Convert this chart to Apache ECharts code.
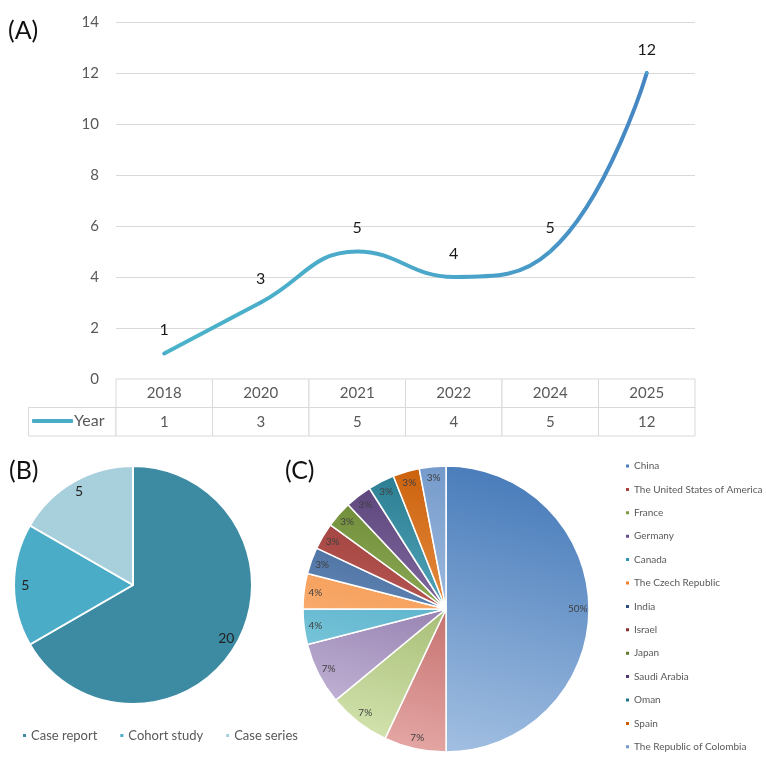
<!DOCTYPE html>
<html>
<head>
<meta charset="utf-8">
<script src="https://cdn.jsdelivr.net/npm/echarts@6/dist/echarts.min.js"></script>
<style>
  html, body { margin: 0; padding: 0; background: #fff; }
  #main { width: 766px; height: 760px; }
</style>
</head>
<body>
<div id="main"></div>
<script>
// (A) publications per year
const years = ['2018', '2020', '2021', '2022', '2024', '2025'];
const yearCounts = [1, 3, 5, 4, 5, 12];
const yMin = 0, yMax = 14, yStep = 2;

// (B) study design
const designNames = ['Case report', 'Cohort study', 'Case series'];
const designValues = [20, 5, 5];
const designColors = ['#3c8ba3', '#4aacc6', '#a8cfdc'];

// (C) country share (%)
const countries = ['China', 'The United States of America', 'France', 'Germany', 'Canada',
  'The Czech Republic', 'India', 'Israel', 'Japan', 'Saudi Arabia', 'Oman', 'Spain',
  'The Republic of Colombia'];
const countryShares = [50, 7, 7, 7, 4, 4, 3, 3, 3, 3, 3, 3, 3];
// dark (top) -> light (bottom) across the whole pie
const countryColors = [
  ['#4a7dbb', '#a3c0e2'], ['#a8403d', '#e3a5a3'], ['#7d9a3f', '#d2e2ad'], ['#664c88', '#c8badb'],
  ['#2f97b3', '#8fd3e6'], ['#f07f28', '#fdc597'], ['#2a4d7c', '#8ab0e0'], ['#8a302d', '#de7773'],
  ['#5f7b2a', '#b3d27a'], ['#4f386f', '#ae97ca'], ['#237589', '#7dd2e7'], ['#c95d08', '#ffb873'],
  ['#7399ca', '#c6d9f0']
];

const font = 'Lato';
const grey = '#595959';

const pieB = { center: [133, 585], r: 119 };
const pieC = { center: [446, 609], r: 143 };

// table cells: header row = years, second row = counts
const tableData = [];
const tableText = [];
years.forEach(function (y, i) {
  tableData.push([i, 0]); tableText.push(y);
});
yearCounts.forEach(function (v, i) {
  tableData.push([i, 1]); tableText.push(String(v));
});

const chart = echarts.init(document.getElementById('main'));

let option = {
  backgroundColor: '#fff',
  animation: false,
  title: [
    { text: '(A)', left: 3, top: 13, textStyle: { fontSize: 25, fontWeight: 'normal', color: '#111', fontFamily: font } },
    { text: '(B)', left: 4, top: 453, textStyle: { fontSize: 25, fontWeight: 'normal', color: '#111', fontFamily: font } },
    { text: '(C)', left: 280, top: 453, textStyle: { fontSize: 25, fontWeight: 'normal', color: '#111', fontFamily: font } }
  ],
  grid: [
    { left: 116, top: 22, width: 579, height: 357 },
    { left: 116, top: 379, width: 579, height: 57 }
  ],
  xAxis: [
    {
      gridIndex: 0, type: 'category', data: years, boundaryGap: true,
      axisLine: { show: false }, axisTick: { show: false }, axisLabel: { show: false }
    },
    {
      gridIndex: 1, type: 'category', data: years, show: false
    }
  ],
  yAxis: [
    {
      gridIndex: 0, type: 'value', min: yMin, max: yMax, interval: yStep,
      axisLine: { show: false }, axisTick: { show: false },
      axisLabel: { margin: 17, fontSize: 15, color: grey, fontFamily: font },
      splitLine: { lineStyle: { color: '#d9d9d9', width: 1 } }
    },
    {
      gridIndex: 1, type: 'category', data: ['head', 'vals'], inverse: true, show: false
    }
  ],
  legend: [
    {
      data: ['Year'], left: 32, top: 413, padding: 0, icon: 'roundRect', itemWidth: 41, itemHeight: 4,
      itemStyle: { color: '#4bacc6', opacity: 1 },
      textStyle: { fontSize: 16, color: grey, fontFamily: font, padding: [0, 0, 0, -4] }
    },
    {
      data: designNames, left: 21, top: 729, padding: 0, icon: 'rect', itemWidth: 5, itemHeight: 5, itemGap: 21,
      textStyle: { fontSize: 13, color: grey, fontFamily: font, padding: [0, 0, 0, -1] }
    },
    {
      data: countries, orient: 'vertical', left: 624, top: 459, padding: 0, icon: 'rect',
      itemWidth: 5, itemHeight: 5, itemGap: 9.4,
      textStyle: { fontSize: 10, lineHeight: 14, color: grey, fontFamily: font, padding: [0, 0, 0, -1] }
    }
  ],
  graphic: [
    {
      type: 'rect', silent: true,
      shape: { x: 28.5, y: 407.5, width: 87.5, height: 28.5 },
      style: { fill: 'none', stroke: '#d9d9d9', lineWidth: 1 }
    }
  ],
  series: [
    {
      name: 'Year', type: 'line', xAxisIndex: 0, yAxisIndex: 0,
      data: yearCounts, smooth: 0.45, symbol: 'circle', symbolSize: 3,
      itemStyle: { color: '#4aa6ca' },
      lineStyle: {
        width: 4, cap: 'round',
        color: new echarts.graphic.LinearGradient(0, 0, 1, 0, [
          { offset: 0, color: '#4bb3c9' },
          { offset: 0.6, color: '#4aa6ca' },
          { offset: 1, color: '#4585c3' }
        ])
      },
      label: {
        show: true, position: 'top', distance: 14,
        fontSize: 16, color: '#1a1a1a', fontFamily: font
      },
      emphasis: { disabled: true }
    },
    {
      type: 'custom', xAxisIndex: 1, yAxisIndex: 1, silent: true,
      data: tableData,
      renderItem: function (params, api) {
        var c = api.coord([api.value(0), api.value(1)]);
        var s = api.size([1, 1]);
        return {
          type: 'group',
          children: [
            {
              type: 'rect',
              shape: { x: c[0] - s[0] / 2, y: c[1] - s[1] / 2, width: s[0], height: s[1] },
              style: { fill: '#fff', stroke: '#d9d9d9', lineWidth: 1 }
            },
            {
              type: 'text',
              style: {
                text: tableText[params.dataIndex], x: c[0], y: c[1],
                align: 'center', verticalAlign: 'middle',
                fill: grey, fontSize: 15, fontFamily: font
              }
            }
          ]
        };
      }
    },
    // (B) pie
    {
      name: 'design', type: 'pie', center: pieB.center, radius: [0, pieB.r],
      startAngle: 90, clockwise: true,
      data: designNames.map(function (n, i) {
        return { name: n, value: designValues[i], itemStyle: { color: designColors[i] } };
      }),
      itemStyle: { borderColor: '#fff', borderWidth: 2 },
      label: { show: false }, labelLine: { show: false },
      emphasis: { disabled: true }
    },
    {
      name: 'designLabels', type: 'pie', center: pieB.center, radius: [pieB.r * 0.76, pieB.r],
      startAngle: 90, silent: true, legendHoverLink: false,
      data: designNames.map(function (n, i) {
        return { name: n, value: designValues[i] };
      }),
      itemStyle: { color: 'rgba(0,0,0,0)' },
      label: { show: true, position: 'inside', formatter: '{c}', fontSize: 14, color: '#222', fontFamily: font },
      labelLine: { show: false }
    },
    // (C) pie
    {
      name: 'country', type: 'pie', center: pieC.center, radius: [0, pieC.r],
      startAngle: 90, clockwise: true,
      data: countries.map(function (n, i) {
        return {
          name: n, value: countryShares[i],
          itemStyle: {
            color: new echarts.graphic.LinearGradient(
              pieC.center[0] + pieC.r * 0.24, pieC.center[1] - pieC.r * 0.97,
              pieC.center[0] - pieC.r * 0.24, pieC.center[1] + pieC.r * 0.97, [
                { offset: 0, color: countryColors[i][0] },
                { offset: 1, color: countryColors[i][1] }
              ], true)
          }
        };
      }),
      itemStyle: { borderColor: '#fff', borderWidth: 1.5 },
      label: { show: false }, labelLine: { show: false },
      emphasis: { disabled: true }
    },
    {
      name: 'countryLabels', type: 'pie', center: pieC.center, radius: [pieC.r * 0.8, pieC.r],
      startAngle: 90, silent: true, legendHoverLink: false,
      data: countries.map(function (n, i) {
        return { name: n, value: countryShares[i] };
      }),
      itemStyle: { color: 'rgba(0,0,0,0)' },
      label: { show: true, position: 'inside', formatter: '{c}%', fontSize: 10, color: '#404040', fontFamily: font },
      labelLine: { show: false }
    }
  ]
};

chart.setOption(option, true);
</script>
</body>
</html>
